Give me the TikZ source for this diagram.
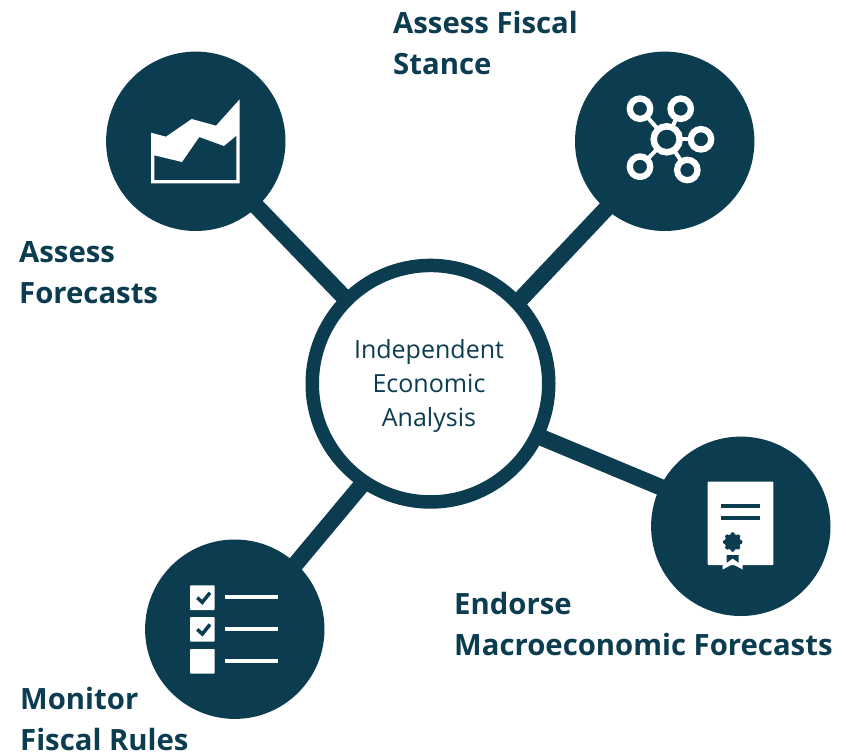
\documentclass[tikz,border=0pt]{standalone}
\usepackage{fontspec}
\setmainfont{Open Sans}
\definecolor{navy}{HTML}{0B3C50}
\tikzset{
  x=1pt,y=-1pt,
  sat/.style={circle,fill=navy,minimum size=179.4pt,inner sep=0pt,outer sep=0pt},
  hubnode/.style={circle,draw=navy,line width=13.5pt,fill=white,minimum size=236.5pt,inner sep=0pt,outer sep=0pt},
  hubtext/.style={inner sep=0pt,text=navy,align=center,font=\fontsize{25}{34.3}\selectfont},
  conn/.style={draw=navy,line width=16.5pt,shorten >=-3pt},
  lab/.style={anchor=west,inner sep=0pt,text=navy,align=left,font=\fontsize{29.3}{41}\selectfont\bfseries},
  ring/.style={draw=white,line width=6.3pt,fill=navy},
  link/.style={draw=white,line width=4pt},
  wbar/.style={draw=white,line width=4pt},
  nbar/.style={draw=navy,line width=4pt},
  tick/.style={draw=navy,line width=3.5pt},
  wfill/.style={fill=white,rounded corners=0.8pt}
}
\begin{document}
\begin{tikzpicture}
\useasboundingbox[fill=white] (0,0) rectangle (846,752);
\node[hubnode] (hub) at (430.5,383.7) {};
\node[hubtext] (hubt) at (429,386) {Independent\\Economic\\Analysis};
\node[sat] (fc) at (195.8,141.3) {};
\node[sat] (fs) at (664.7,141.3) {};
\node[sat] (mf) at (740.8,526.3) {};
\node[sat] (fr) at (234.8,629.2) {};
\draw[conn] (hub.135) -- (fc.-47.5);
\draw[conn] (hub.43.8) -- (fs.229.3);
\draw[conn] (hub.-26.4) -- (mf.154.4);
\draw[conn] (hub.236.8) -- (fr.47.7);
% chart icon
\fill[white,even odd rule] (151,132.7) -- (166,136.7) -- (191.7,119) -- (216,125.7) -- (239.7,99.3) -- (239.7,183.3) -- (151,183.3) -- cycle
  (154.3,155.3) -- (182,162) -- (199.3,137) -- (224,146) -- (236.3,135.7) -- (236.3,180) -- (154.3,180) -- cycle;
% network icon
\draw[link] (666.7,139.3) -- (640,108.7);
\draw[link] (666.7,139.3) -- (680.7,108.7);
\draw[link] (666.7,139.3) -- (701,139.3);
\draw[link] (666.7,139.3) -- (640,166.7);
\draw[link] (666.7,139.3) -- (687.3,170);
\draw[ring,line width=6.5pt] (666.7,139.3) circle[radius=13];
\draw[ring] (640,108.7) circle[radius=10.2];
\draw[ring] (680.7,108.7) circle[radius=10.2];
\draw[ring] (701,139.3) circle[radius=10.2];
\draw[ring] (640,166.7) circle[radius=10.2];
\draw[ring] (687.3,170) circle[radius=10.2];
% certificate icon
\fill[wfill] (707.7,481.7) rectangle (773.3,565);
\fill[white] (722.7,564) -- (722.7,569.5) -- (732.7,564.2) -- (742.7,569.5) -- (742.7,564) -- cycle;
\draw[nbar] (720.7,506.3) -- (760,506.3);
\draw[nbar] (720.7,518.3) -- (760,518.3);
\fill[navy] (726.7,555) -- (738.7,555) -- (738.7,562.7) -- (732.7,558.5) -- (726.7,562.7) -- cycle;
\fill[navy] (732.7,542) circle[radius=8];
\foreach \a in {0,45,...,315}{\fill[navy] (732.7,542) ++(\a:7.6) circle[radius=2.2];}
% checklist icon
\fill[wfill] (190,585.3) rectangle (214.7,610);
\fill[wfill] (190,617) rectangle (214.7,641.7);
\fill[wfill] (190,649) rectangle (214.7,673.7);
\draw[tick] (197.3,597.7) -- (202.3,602.3) -- (210,592.7);
\draw[tick] (197.3,629.4) -- (202.3,634) -- (210,624.4);
\draw[wbar] (225,597.3) -- (278.3,597.3);
\draw[wbar] (225,629.3) -- (278.3,629.3);
\draw[wbar] (225,661) -- (278.3,661);
% labels
\node[lab] (l1) at (393,43) {Assess Fiscal\\Stance};
\node[lab] (l2) at (19,273) {Assess\\Forecasts};
\node[lab] (l3) at (454,624) {Endorse\\Macroeconomic Forecasts};
\node[lab] (l4) at (20,719) {Monitor\\Fiscal Rules};
\end{tikzpicture}
\end{document}
